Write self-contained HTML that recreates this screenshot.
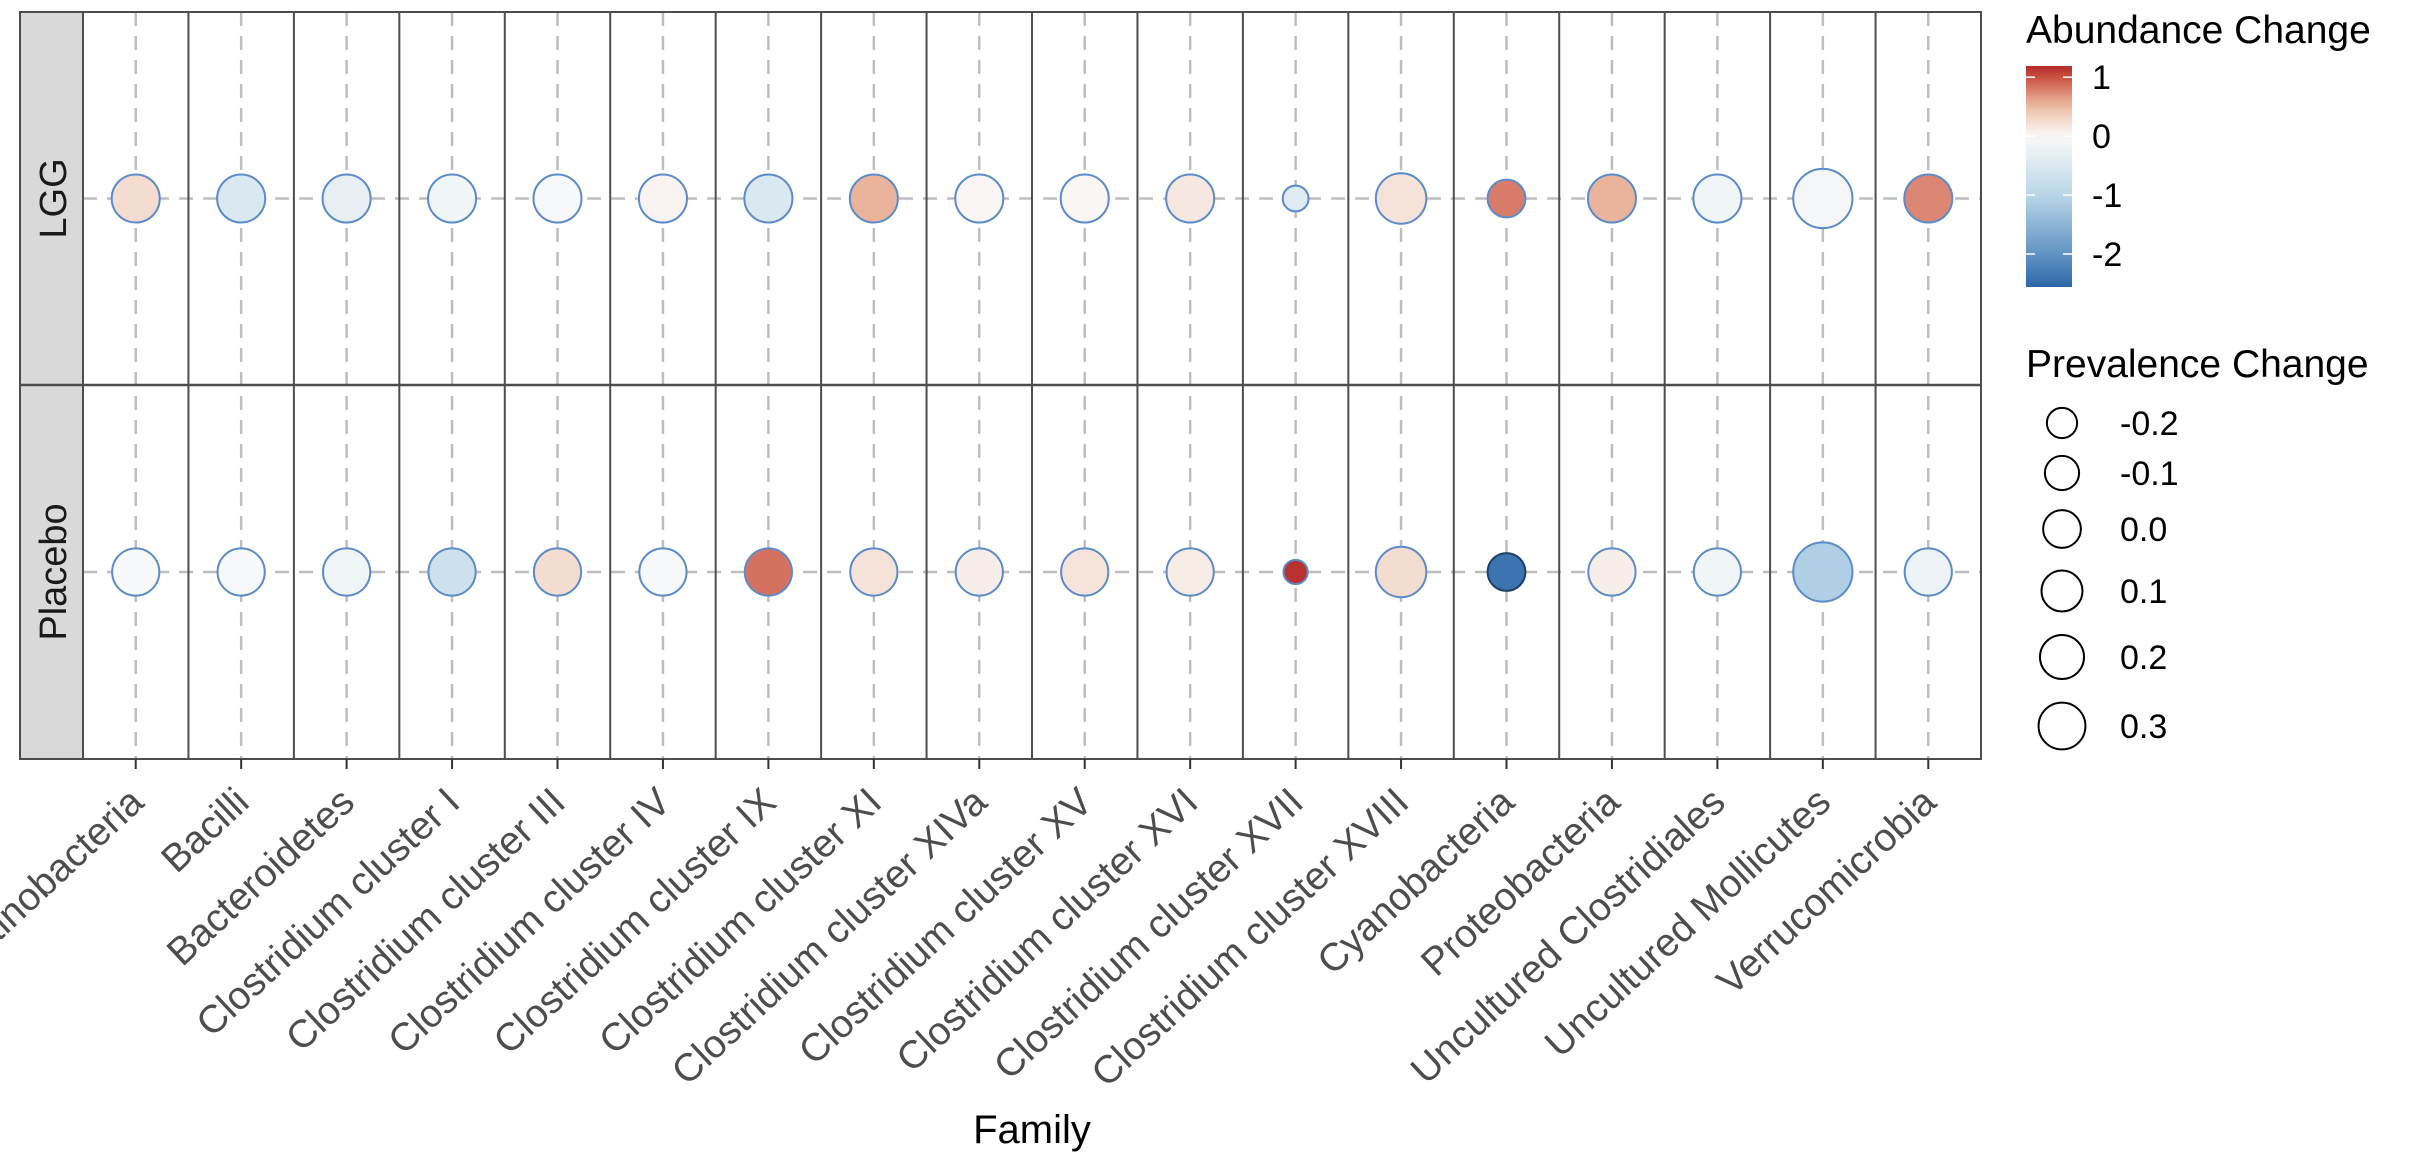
<!DOCTYPE html>
<html><head><meta charset="utf-8"><style>
html,body{margin:0;padding:0;background:#fff;}
svg{display:block;font-family:"Liberation Sans",Arial,sans-serif;}
</style></head><body>
<svg id="chart" width="2430" height="1160" viewBox="0 0 2430 1160"></svg>
<script>
const categories = ["Actinobacteria","Bacilli","Bacteroidetes","Clostridium cluster I","Clostridium cluster III","Clostridium cluster IV","Clostridium cluster IX","Clostridium cluster XI","Clostridium cluster XIVa","Clostridium cluster XV","Clostridium cluster XVI","Clostridium cluster XVII","Clostridium cluster XVIII","Cyanobacteria","Proteobacteria","Uncultured Clostridiales","Uncultured Mollicutes","Verrucomicrobia"];
const groups = ["LGG","Placebo"];
const lggAbundance = [0.25,-0.5,-0.3,-0.15,-0.05,0.05,-0.5,0.55,0.03,0.03,0.15,-0.4,0.2,0.8,0.55,-0.15,-0.1,0.75];
const placeboAbundance = [-0.05,-0.05,-0.15,-0.7,0.25,-0.05,0.85,0.2,0.1,0.18,0.12,1.15,0.25,-2.4,0.1,-0.15,-1.1,-0.2];
const lggPrevalence = [0.02,0.02,0.02,0.02,0.02,0.02,0.02,0.02,0.02,0.02,0.02,-0.39,0.08,-0.2,0.02,0.02,0.32,0.02];
const placeboPrevalence = [0,0,0,0,0,0,0,0,0,0,0,-0.41,0.08,-0.2,0,0,0.32,0];
const colorTicks = [1,0,-1,-2];
const sizeTicks = [-0.2,-0.1,0.0,0.1,0.2,0.3];

const NS="http://www.w3.org/2000/svg";
const svg=document.getElementById('chart');
function mk(tag,attrs,parent){const e=document.createElementNS(NS,tag);for(const k in attrs)e.setAttribute(k,attrs[k]);(parent||svg).appendChild(e);return e;}

const PX0=83,PX1=1981,PY0=12,PY1=759,PMID=385;
const colW=(PX1-PX0)/categories.length;
const xScale=i=>PX0+colW*(i+0.5);
const rowTop=[PY0,PMID],rowH=[PMID-PY0,PY1-PMID];
const yScale=g=>rowTop[g]+rowH[g]/2;
const rScale=v=>Math.sqrt(Math.max(60,557+1000*v));

const stops=[[-2.56,[44,104,168]],[-2,[97,147,196]],[-1,[185,214,232]],[0,[250,250,250]],[0.5,[238,190,165]],[1,[201,80,65]],[1.19,[181,42,42]]];
function colorScale(v){
  if(v<=stops[0][0])return 'rgb('+stops[0][1]+')';
  for(let i=1;i<stops.length;i++){if(v<=stops[i][0]){const a=stops[i-1],b=stops[i],t=(v-a[0])/(b[0]-a[0]);return 'rgb('+a[1].map((c,k)=>Math.round(c+(b[1][k]-c)*t)).join(',')+')';}}
  return 'rgb('+stops[stops.length-1][1]+')';
}

for(let g=0;g<2;g++){
  const s=mk('rect',{x:20,y:rowTop[g],width:PX0-20,height:rowH[g],fill:'#d9d9d9',stroke:'#4d4d4d','stroke-width':2});
  
  
  const cy=yScale(g);
  const t=mk('text',{x:0,y:0,transform:`translate(66,${cy}) rotate(-90)`,'text-anchor':'middle','font-size':38,fill:'#1a1a1a'});
  t.textContent=groups[g];
  
  
}
const bg=mk('rect',{x:PX0,y:PY0,width:PX1-PX0,height:PY1-PY0,fill:'#fff'});


for(let i=0;i<categories.length;i++){
  const l=mk('line',{x1:xScale(i),x2:xScale(i),y1:PY0,y2:PY1,stroke:'#bebebe','stroke-width':2.5,'stroke-dasharray':'14 10'});
  
  
}
for(let g=0;g<2;g++){
  const l=mk('line',{x1:PX0,x2:PX1,y1:yScale(g),y2:yScale(g),stroke:'#bebebe','stroke-width':2.5,'stroke-dasharray':'14 10'});
  
  
}
for(let i=1;i<categories.length;i++){
  const x=PX0+colW*i;
  const l=mk('line',{x1:x,x2:x,y1:PY0,y2:PY1,stroke:'#4d4d4d','stroke-width':2});
  
  
}
const b1=mk('rect',{x:PX0,y:PY0,width:PX1-PX0,height:PY1-PY0,fill:'none',stroke:'#4d4d4d','stroke-width':2});


const md=mk('line',{x1:20,x2:PX1,y1:PMID,y2:PMID,stroke:'#4d4d4d','stroke-width':2.5});



const abund=[lggAbundance,placeboAbundance],prev=[lggPrevalence,placeboPrevalence];
for(let g=0;g<2;g++)for(let i=0;i<categories.length;i++){
  const v=abund[g][i];
  const c=mk('circle',{cx:xScale(i),cy:yScale(g),r:rScale(prev[g][i]),fill:colorScale(v),stroke:v<-2?'#1f3f66':'#5b8bc9','stroke-width':2});
  
  
}
for(let i=0;i<categories.length;i++){
  const x=xScale(i);
  const tk=mk('line',{x1:x,x2:x,y1:PY1,y2:PY1+10,stroke:'#333','stroke-width':2});
  
  
  const t=mk('text',{transform:`translate(${x+10},${PY1+46}) rotate(-43)`,'text-anchor':'end','font-size':39,fill:'#4d4d4d'});
  t.textContent=categories[i];
  
  
}
const xt=mk('text',{x:1032,y:1143,'text-anchor':'middle','font-size':40,fill:'#000'});
xt.textContent='Family';



const lt=mk('text',{x:2026,y:43,'font-size':39,fill:'#000'});
lt.textContent='Abundance Change';


const CB0=66,CB1=287,cbTop=1.19,cbBot=-2.56;
const cbY=v=>CB0+(cbTop-v)/(cbTop-cbBot)*(CB1-CB0);
const defs=mk('defs',{});
const grad=mk('linearGradient',{id:'cbg',x1:0,y1:0,x2:0,y2:1},defs);
for(let k=0;k<=20;k++){const v=cbTop-(cbTop-cbBot)*k/20;mk('stop',{offset:(k/20),'stop-color':colorScale(v)},grad);}
const cb=mk('rect',{x:2026,y:CB0,width:46,height:CB1-CB0,fill:'url(#cbg)'});


colorTicks.forEach(v=>{
  const y=cbY(v);
  mk('line',{x1:2026,x2:2035,y1:y,y2:y,stroke:'#fff','stroke-width':1.5});
  mk('line',{x1:2063,x2:2072,y1:y,y2:y,stroke:'#fff','stroke-width':1.5});
  const t=mk('text',{x:2092,y:y+12,'font-size':34,fill:'#000'});
  t.textContent=String(v);
  
  
});
const st=mk('text',{x:2026,y:377,'font-size':39,fill:'#000'});
st.textContent='Prevalence Change';


const sizeY=[423,473,529,591,657,726];
sizeTicks.forEach((v,k)=>{
  const c=mk('circle',{cx:2062,cy:sizeY[k],r:Math.sqrt(Math.max(60,557+1000*v))*0.8,fill:'#fff',stroke:'#000','stroke-width':2});
  
  
  const t=mk('text',{x:2120,y:sizeY[k]+12,'font-size':34,fill:'#000'});
  t.textContent=v.toFixed(1);
  
  
});
</script>
</body></html>
